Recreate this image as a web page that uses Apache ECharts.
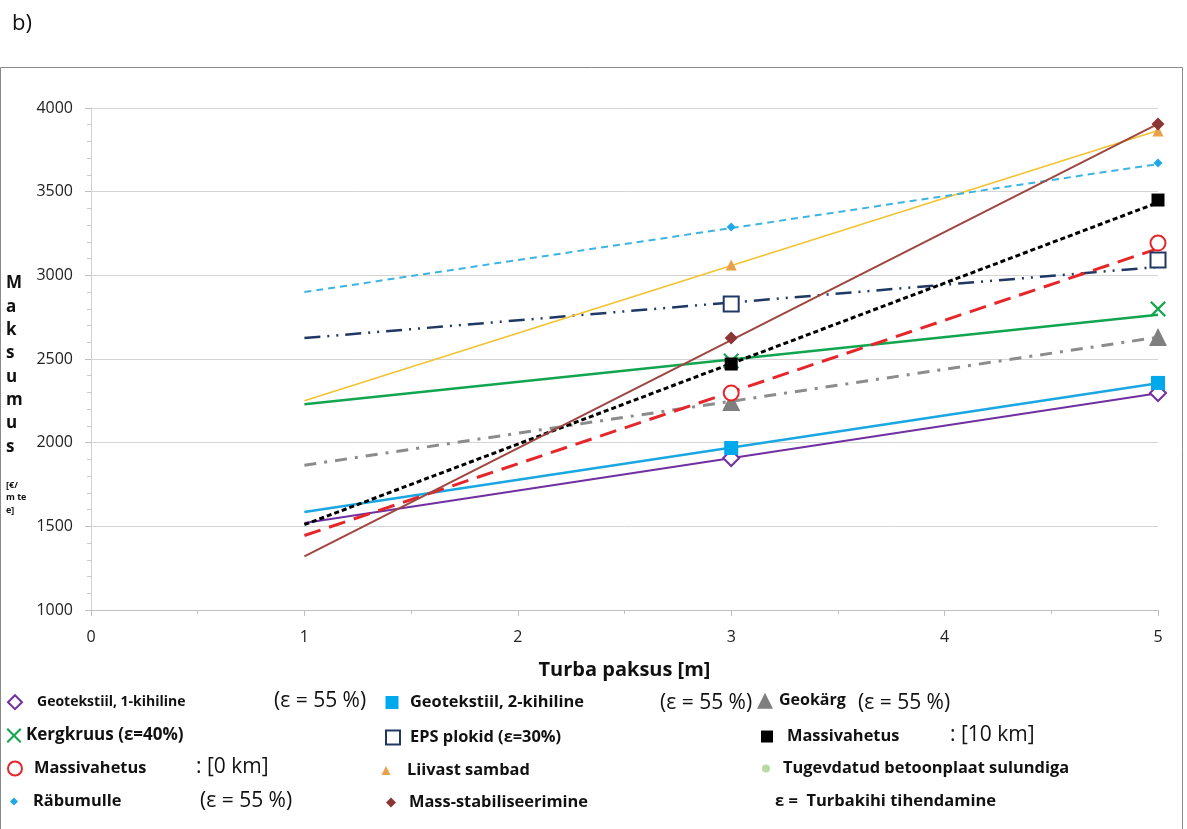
<!DOCTYPE html>
<html><head><meta charset="utf-8">
<script src="https://cdn.jsdelivr.net/npm/echarts@6/dist/echarts.min.js"></script>
<style>html,body{margin:0;padding:0;background:#fff}#c{width:1187px;height:829px}</style>
</head><body><div id="c"></div>
<script>
// ---- data ----
const xTicks = [0, 1, 2, 3, 4, 5];
const yTicks = [1000, 1500, 2000, 2500, 3000, 3500, 4000];
const seriesNames = ['Geotekstiil, 1-kihiline', 'Geotekstiil, 2-kihiline', 'Geokärg', 'Kergkruus (ε=40%)',
  'EPS plokid (ε=30%)', 'Massivahetus [10 km]', 'Massivahetus [0 km]', 'Liivast sambad', 'Räbumulle', 'Mass-stabiliseerimine'];
const legendLabels = ['Geotekstiil, 1-kihiline', 'Geotekstiil, 2-kihiline', 'Geokärg', 'Kergkruus (ε=40%)',
  'EPS plokid (ε=30%)', 'Massivahetus', 'Massivahetus', 'Liivast sambad', 'Räbumulle', 'Mass-stabiliseerimine'];
const extraName = 'Tugevdatud betoonplaat sulundiga';
const thickness = [1, 3, 5];
const lineAt1 = [1520, 1585, 1865, 2230, 2625, 1510, 1445, 2250, 2900, 1320];
const lineAt5 = [2295, 2355, 2630, 2765, 3050, 3435, 3160, 3865, 3665, 3905];
const markerAt3 = [1908, 1968, 2243, 2488, 2829, 2470, 2297, 3062, 3289, 2626];
const markerAt5 = [2297, 2357, 2631, 2799, 3092, 3450, 3193, 3863, 3671, 3905];
const extraTexts = ['(ε = 55 %)', '(ε = 55 %)', '(ε = 55 %)', ': [10 km]', ': [0 km]', '(ε = 55 %)', 'ε =  Turbakihi tihendamine'];

// ---- styles (not data) ----
const X_PATH = 'path://M2,0 L10,8 L18,0 L20,2 L12,10 L20,18 L18,20 L10,12 L2,20 L0,18 L8,10 L0,2 Z';
const styles = [
  {color: '#7030A0', lw: 2, type: 'solid', sym: 'emptyDiamond', size: [16, 16], mcolor: '#7030A0'},
  {color: '#1AA7E1', lw: 2.5, type: 'solid', sym: 'rect', size: 14, mcolor: '#00A8EC'},
  {color: '#8C8C8C', lw: 3, type: [12, 8, 3, 8], sym: 'triangle', size: 18, mcolor: '#7F7F7F'},
  {color: '#11A550', lw: 2.5, type: 'solid', sym: X_PATH, size: 16, mcolor: '#16A550'},
  {color: '#1F3864', lw: 2.5, type: [16, 7, 2, 7, 2, 7], sym: 'emptyRect', size: 15, mcolor: '#1F3864'},
  {color: '#000000', lw: 3, type: [5, 3], sym: 'rect', size: 13, mcolor: '#000000'},
  {color: '#E5262B', lw: 3, type: [17, 9], sym: 'emptyCircle', size: 15, mcolor: '#E5262B'},
  {color: '#F2C230', lw: 1.5, type: 'solid', sym: 'triangle', size: 11, mcolor: '#E9A04A'},
  {color: '#3BB4E2', lw: 2, type: [7, 5], sym: 'diamond', size: 9, mcolor: '#1EA9E6'},
  {color: '#9E4640', lw: 2, type: 'solid', sym: 'diamond', size: 13, mcolor: '#8B3535'}
];
const symBorder = [2, 0, 0, 0, 2.5, 0, 2.5, 0, 0, 0];

// legend layout per series: [iconCenterX, centerY, iconSize, textLeft, fontSize]
const legendLayoutBySeries = [
  [14, 700, 14, 36, 14], [392, 702, 13, 410, 16.4], [765, 700, 16, 779, 16],
  [14, 735, 15, 26, 17], [392, 737, 14, 409, 16.4], [767, 736, 12, 787, 16.4],
  [14, 768, 14, 33, 16.4], [386, 770, 9, 407, 16.4], [14, 801, 8, 33, 16.4],
  [391, 802, 10, 409, 16.4]
];
const extraLegendLayout = [766, 768, 8, 783, 16.4];
const extraTextLayout = [[274, 701], [660, 703], [858, 703], [950, 735], [196, 767], [200, 801], [775, 801]];

const FONT = 'Open Sans';
const series = [];
seriesNames.forEach((n, i) => {
  const s = styles[i];
  series.push({
    name: '_trend' + i, type: 'line', silent: true, symbol: 'none', z: 2,
    data: [[thickness[0], lineAt1[i]], [thickness[2], lineAt5[i]]],
    lineStyle: {color: s.color, width: s.lw, type: s.type, cap: 'butt'}
  });
});
seriesNames.forEach((n, i) => {
  const s = styles[i];
  series.push({
    name: n, type: 'scatter', z: 5, symbol: s.sym, symbolSize: s.size,
    data: [[thickness[1], markerAt3[i]], [thickness[2], markerAt5[i]]],
    itemStyle: {color: s.mcolor, borderColor: s.mcolor, borderWidth: symBorder[i], opacity: 1}
  });
});
series.push({name: extraName, type: 'scatter', symbol: 'circle', symbolSize: 8, data: [], itemStyle: {color: '#A9D18E'}});

const legends = [];
function mkLegend(name, label, L) {
  const [cx, cy, sz, tl, fs] = L;
  const left = cx - sz / 2;
  const padLeft = tl - (left + sz + 5);
  const textH = fs * 1.4;
  const boxH = Math.max(sz, textH);
  return {
    data: [name], left: left, top: cy - boxH / 2 + 4, padding: 0,
    itemWidth: sz, itemHeight: sz, selectedMode: false,
    formatter: () => label,
    textStyle: {fontFamily: FONT, fontWeight: 'bold', fontSize: fs, color: '#111', padding: [0, 0, 0, padLeft]}
  };
}
seriesNames.forEach((n, i) => legends.push(mkLegend(n, legendLabels[i], legendLayoutBySeries[i])));
legends.push(mkLegend(extraName, extraName, extraLegendLayout));

const graphics = [
  {type: 'rect', shape: {x: 0.5, y: 67.5, width: 1182, height: 800}, style: {fill: 'none', stroke: '#8a8a8a', lineWidth: 1}, silent: true},
  {type: 'text', x: 12, y: 24, style: {text: 'b)', font: '22px "Open Sans"', fill: '#111', verticalAlign: 'middle'}},
  {type: 'text', x: 6, y: 272, style: {text: 'M\na\nk\ns\nu\nm\nu\ns', font: 'bold 17px "Open Sans"', fill: '#111', lineHeight: 23.3, verticalAlign: 'top'}},
  {type: 'text', x: 6, y: 479, style: {text: '[€/\nm te\ne]', font: 'bold 9px "Open Sans"', fill: '#111', lineHeight: 12.5, verticalAlign: 'top'}}
];
extraTexts.forEach((t, i) => {
  const [x, y] = extraTextLayout[i];
  const bold = i === 6;
  graphics.push({type: 'text', x: x, y: y, style: {text: t, font: (bold ? 'bold 16.5px' : '21px') + ' "Open Sans"', fill: '#111', verticalAlign: 'middle'}});
});

const chart = echarts.init(document.getElementById('c'));
chart.setOption({
  animation: false,
  backgroundColor: '#fff',
  grid: {left: 91, right: 29, top: 108, bottom: 219},
  xAxis: {
    type: 'value', min: xTicks[0], max: xTicks[xTicks.length - 1], interval: 1,
    name: 'Turba paksus [m]', nameLocation: 'middle', nameGap: 50,
    nameTextStyle: {fontFamily: FONT, fontWeight: 'bold', fontSize: 20, color: '#111'},
    axisLine: {lineStyle: {color: '#bfbfbf'}},
    axisTick: {show: true, length: 6, lineStyle: {color: '#bfbfbf'}},
    minorTick: {show: true, splitNumber: 2, length: 4, lineStyle: {color: '#bfbfbf'}},
    axisLabel: {fontFamily: FONT, fontSize: 16, color: '#222', margin: 19},
    splitLine: {show: false}
  },
  yAxis: {
    type: 'value', min: yTicks[0], max: yTicks[yTicks.length - 1], interval: 500,
    axisLine: {show: true, lineStyle: {color: '#d0d0d0'}},
    axisTick: {show: true, length: 6, lineStyle: {color: '#bfbfbf'}},
    minorTick: {show: true, splitNumber: 5, length: 4, lineStyle: {color: '#c8c8c8'}},
    axisLabel: {fontFamily: FONT, fontSize: 16, color: '#222', margin: 18, formatter: v => String(v)},
    splitLine: {show: true, lineStyle: {color: '#d4d4d4'}}
  },
  legend: legends,
  graphic: graphics,
  series: series
});
</script></body></html>
